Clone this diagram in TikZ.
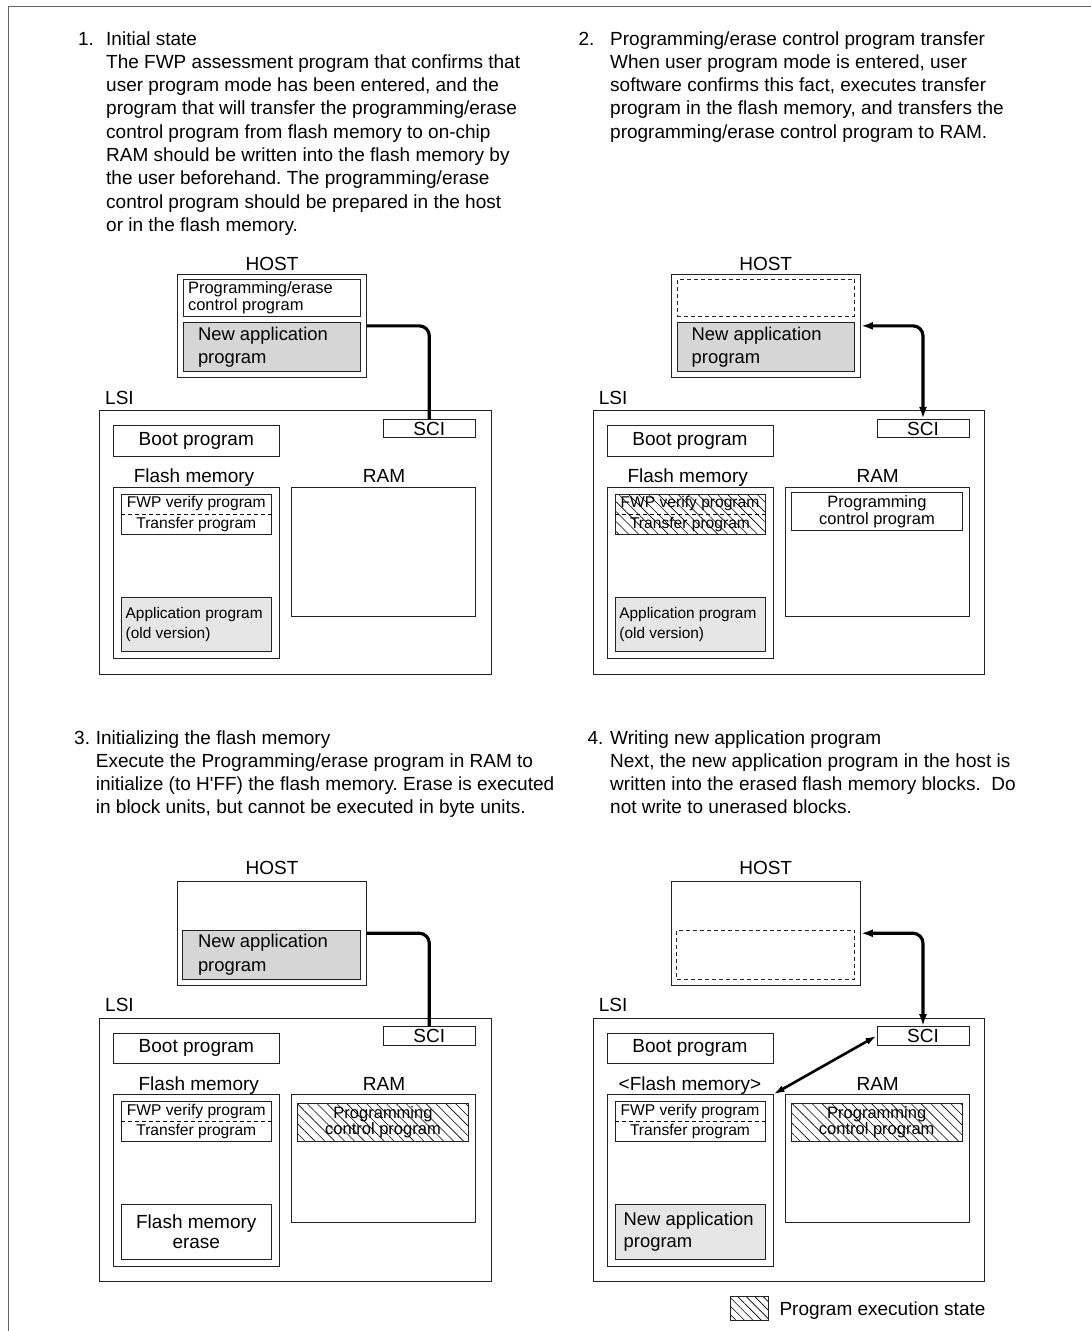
\documentclass[tikz,border=0pt]{standalone}
\usepackage{fontspec}
\setmainfont{Liberation Sans}
\usetikzlibrary{arrows.meta,patterns.meta}
\definecolor{hostgray}{RGB}{214,214,214}
\definecolor{flashgray}{RGB}{230,230,230}
\definecolor{boxline}{RGB}{35,35,35}
\newcommand\myfA{\fontsize{19}{23.3}\selectfont}
\newcommand\myfB{\fontsize{18.4}{23.3}\selectfont}
\newcommand\myfBb{\fontsize{18.4}{22.3}\selectfont}
\newcommand\myfC{\fontsize{16.5}{16.7}\selectfont}
\newcommand\myfD{\fontsize{15.6}{20.3}\selectfont}
\newcommand\myfDb{\fontsize{15.4}{20}\selectfont}
\newcommand\myfE{\fontsize{19}{20.7}\selectfont}
\frenchspacing
\begin{document}
\begin{tikzpicture}[x=1pt,y=-1pt,
  box/.style={draw=boxline, line width=1pt, inner sep=0pt},
  dbox/.style={draw=boxline, line width=0.8pt, dash pattern=on 4pt off 3pt, inner sep=0pt},
  hatch/.style={pattern={Lines[angle=-45,distance=7pt,line width=0.6pt]}},
  hgray/.style={fill=hostgray},
  fgray/.style={fill=flashgray},
  lbl/.style={inner sep=0pt, font=\myfA},
  para/.style={anchor=base west, inner sep=0pt, font=\myfA},
  intext/.style={anchor=west, inner sep=0pt, align=left},
  conn/.style={line width=3.2pt, rounded corners=10pt},
  dconn/.style={conn, {Latex[length=12pt,width=8pt]}-{Latex[length=12pt,width=8pt]}},
  diag/.style={line width=2.6pt, {Latex[length=11pt,width=7pt]}-{Latex[length=11pt,width=7pt]}},
  sepline/.style={line width=0.6pt, dash pattern=on 4pt off 3pt},
  framel/.style={draw=black!60, line width=1pt}
]
\useasboundingbox (0,0) rectangle (1091,1331);
\draw[framel] (8.3,1331) -- (8.3,6.7) -- (1091,6.7);

% ---------------- texts ----------------
\node[para] (n1) at (77.9,45) {1.};
\node[para] (t1a) at (106,45) {Initial state};
\node[para] (t1b) at (106,68.3) {The FWP assessment program that confirms that};
\node[para] (t1c) at (106,91.6) {user program mode has been entered, and the};
\node[para] (t1d) at (106,114.9) {program that will transfer the programming/erase};
\node[para] (t1e) at (106,138.2) {control program from flash memory to on-chip};
\node[para] (t1f) at (106,161.5) {RAM should be written into the flash memory by};
\node[para] (t1g) at (106,184.8) {the user beforehand. The programming/erase};
\node[para] (t1h) at (106,208.1) {control program should be prepared in the host};
\node[para] (t1i) at (106,231.4) {or in the flash memory.};

\node[para] (n2) at (578.3,45) {2.};
\node[para] (t2a) at (610,45) {Programming/erase control program transfer};
\node[para] (t2b) at (610,68.3) {When user program mode is entered, user};
\node[para] (t2c) at (610,91.6) {software confirms this fact, executes transfer};
\node[para] (t2d) at (610,114.9) {program in the flash memory, and transfers the};
\node[para] (t2e) at (610,138.2) {programming/erase control program to RAM.};

\node[para] (n3) at (74,744) {3.};
\node[para] (t3a) at (95.7,744) {Initializing the flash memory};
\node[para] (t3b) at (95.7,767.3) {Execute the Programming/erase program in RAM to};
\node[para] (t3c) at (95.7,790.6) {initialize (to H\textquotesingle FF) the flash memory. Erase is executed};
\node[para] (t3d) at (95.7,813.9) {in block units, but cannot be executed in byte units.};

\node[para] (n4) at (587.3,744) {4.};
\node[para] (t4a) at (610,744) {Writing new application program};
\node[para] (t4b) at (610,767.3) {Next, the new application program in the host is};
\node[para] (t4c) at (610,790.6) {written into the erased flash memory blocks.\ \ Do};
\node[para] (t4d) at (610,813.9) {not write to unerased blocks.};

% ---------------- panel 1 ----------------
\node[lbl, anchor=base] (hostlbl1) at (272,270) {HOST};
\node[box, minimum width=189.4, minimum height=103.7] (host1) at (272,325.85) {};
\node[box, minimum width=177.4, minimum height=36.7] (pe1) at (272,297.65) {};
\node[intext, font=\myfC] (pe1t) at ([xshift=5pt]pe1.west) {Programming/erase\\control program};
\node[box, hgray, minimum width=177.4, minimum height=49] (na1) at (272,347.2) {};
\node[intext, font=\myfB] (na1t) at ([xshift=15pt]na1.west) {New application\\program};
\node[lbl, anchor=base west] (lsilbl1) at (105,404.3) {LSI};
\node[box, minimum width=391.7, minimum height=263.3] (lsi1) at (295.15,542.35) {};
\node[box, minimum width=92, minimum height=18.4, font=\myfA] (sci1) at (429.3,428.5) {SCI};
\node[box, minimum width=166, minimum height=30.6, font=\myfA] (boot1) at (196.3,441) {Boot program};
\node[lbl, anchor=base] (flashlbl1) at (194,482.3) {Flash memory};
\node[box, minimum width=166, minimum height=170.7] (flash1) at (196.3,572.65) {};
\node[box, minimum width=150, minimum height=40, align=center, font=\myfD] (fwp1) at (196.3,514) {FWP verify program\\Transfer program};
\draw[sepline] (fwp1.west) -- (fwp1.east);
\node[box, fgray, minimum width=150, minimum height=54] (app1) at (196.3,624.3) {};
\node[intext, font=\myfDb] (app1t) at ([xshift=4.7pt]app1.west) {Application program\\(old version)};
\node[lbl, anchor=base] (ramlbl1) at (384,482.3) {RAM};
\node[box, minimum width=184, minimum height=128.7] (ram1) at (383.3,551.65) {};
\draw[conn] (host1.east) -| (sci1.north);

% ---------------- panel 2 ----------------
\begin{scope}[shift={(493.7,0)}]
\node[lbl, anchor=base] (hostlbl2) at (272,270) {HOST};
\node[box, minimum width=189.4, minimum height=103.7] (host2) at (272,325.85) {};
\node[dbox, minimum width=177.4, minimum height=36.7] (emp2) at (272,297.65) {};
\node[box, hgray, minimum width=177.4, minimum height=49] (na2) at (272,347.2) {};
\node[intext, font=\myfB] (na2t) at ([xshift=15pt]na2.west) {New application\\program};
\node[lbl, anchor=base west] (lsilbl2) at (105,404.3) {LSI};
\node[box, minimum width=391.7, minimum height=263.3] (lsi2) at (295.15,542.35) {};
\node[box, minimum width=92, minimum height=18.4, font=\myfA] (sci2) at (429.3,428.5) {SCI};
\node[box, minimum width=166, minimum height=30.6, font=\myfA] (boot2) at (196.3,441) {Boot program};
\node[lbl, anchor=base] (flashlbl2) at (194,482.3) {Flash memory};
\node[box, minimum width=166, minimum height=170.7] (flash2) at (196.3,572.65) {};
\node[box, hatch, minimum width=150, minimum height=40, align=center, font=\myfD] (fwp2) at (196.3,514) {FWP verify program\\Transfer program};
\draw[sepline] (fwp2.west) -- (fwp2.east);
\node[box, fgray, minimum width=150, minimum height=54] (app2) at (196.3,624.3) {};
\node[intext, font=\myfDb] (app2t) at ([xshift=4.7pt]app2.west) {Application program\\(old version)};
\node[lbl, anchor=base] (ramlbl2) at (384,482.3) {RAM};
\node[box, minimum width=184, minimum height=128.7] (ram2) at (383.3,551.65) {};
\node[box, minimum width=171.4, minimum height=38, align=center, font=\myfC] (pcp2) at (383.3,511.7) {Programming\\control program};
\draw[dconn] (host2.east) -| (sci2.north);
\end{scope}

% ---------------- panel 3 ----------------
\begin{scope}[shift={(0,607.4)}]
\node[lbl, anchor=base] (hostlbl3) at (272,266.6) {HOST};
\node[box, minimum width=189.4, minimum height=104] (host3) at (272,325.85) {};
\node[box, hgray, minimum width=178, minimum height=49.3] (na3) at (271.7,347.25) {};
\node[intext, font=\myfB] (na3t) at ([xshift=15.6pt]na3.west) {New application\\program};
\node[lbl, anchor=base west] (lsilbl3) at (105,404.3) {LSI};
\node[box, minimum width=391.7, minimum height=263.3] (lsi3) at (295.15,542.35) {};
\node[box, minimum width=92, minimum height=18.4, font=\myfA] (sci3) at (429.3,428.5) {SCI};
\node[box, minimum width=166, minimum height=30.6, font=\myfA] (boot3) at (196.3,441) {Boot program};
\node[lbl, anchor=base] (flashlbl3) at (198.8,482.6) {Flash memory};
\node[box, minimum width=166, minimum height=171.3] (flash3) at (196.3,572.95) {};
\node[box, minimum width=150, minimum height=40.4, align=center, font=\myfD] (fwp3) at (196.3,514.1) {FWP verify program\\Transfer program};
\draw[sepline] (fwp3.west) -- (fwp3.east);
\node[box, minimum width=150, minimum height=54.7, align=center, font=\myfE] (erase3) at (196.3,624.25) {Flash memory\\erase};
\node[lbl, anchor=base] (ramlbl3) at (384,482.6) {RAM};
\node[box, minimum width=184, minimum height=128] (ram3) at (383.3,551.3) {};
\node[box, hatch, minimum width=171.4, minimum height=38, align=center, font=\myfC] (pcp3) at (383,514.9) {Programming\\control program};
\draw[conn] (host3.east) -| (sci3.north);
\end{scope}

% ---------------- panel 4 ----------------
\begin{scope}[shift={(493.7,607.4)}]
\node[lbl, anchor=base] (hostlbl4) at (272,266.6) {HOST};
\node[box, minimum width=189.4, minimum height=104] (host4) at (272,325.85) {};
\node[dbox, minimum width=178, minimum height=49.3] (emp4) at (272,347.25) {};
\node[lbl, anchor=base west] (lsilbl4) at (105,404.3) {LSI};
\node[box, minimum width=391.7, minimum height=263.3] (lsi4) at (295.15,542.35) {};
\node[box, minimum width=92, minimum height=18.4, font=\myfA] (sci4) at (429.3,428.5) {SCI};
\node[box, minimum width=166, minimum height=30.6, font=\myfA] (boot4) at (196.3,441) {Boot program};
\node[lbl, anchor=base] (flashlbl4) at (196.3,482.6) {<Flash memory>};
\node[box, minimum width=166, minimum height=171.3] (flash4) at (196.3,572.95) {};
\node[box, minimum width=150, minimum height=40.4, align=center, font=\myfD] (fwp4) at (196.3,514.1) {FWP verify program\\Transfer program};
\draw[sepline] (fwp4.west) -- (fwp4.east);
\node[box, fgray, minimum width=150, minimum height=54.7] (na4) at (196.3,624.25) {};
\node[intext, font=\myfBb] (na4t) at ([xshift=9pt]na4.west) {New application\\program};
\node[lbl, anchor=base] (ramlbl4) at (384,482.6) {RAM};
\node[box, minimum width=184, minimum height=128] (ram4) at (383.3,551.3) {};
\node[box, hatch, minimum width=171.4, minimum height=38, align=center, font=\myfC] (pcp4) at (383,514.9) {Programming\\control program};
\draw[dconn] (host4.east) -| (sci4.north);
\draw[diag] (flash4.north east) -- (sci4.west);
\end{scope}

% ---------------- legend ----------------
\node[box, pattern={Lines[angle=-45,distance=6pt,line width=0.6pt]}, minimum width=37.6, minimum height=24.7] (leg) at (749.5,1308.35) {};
\node[para] (legt) at (779.3,1315.7) {Program execution state};
\end{tikzpicture}
\end{document}
